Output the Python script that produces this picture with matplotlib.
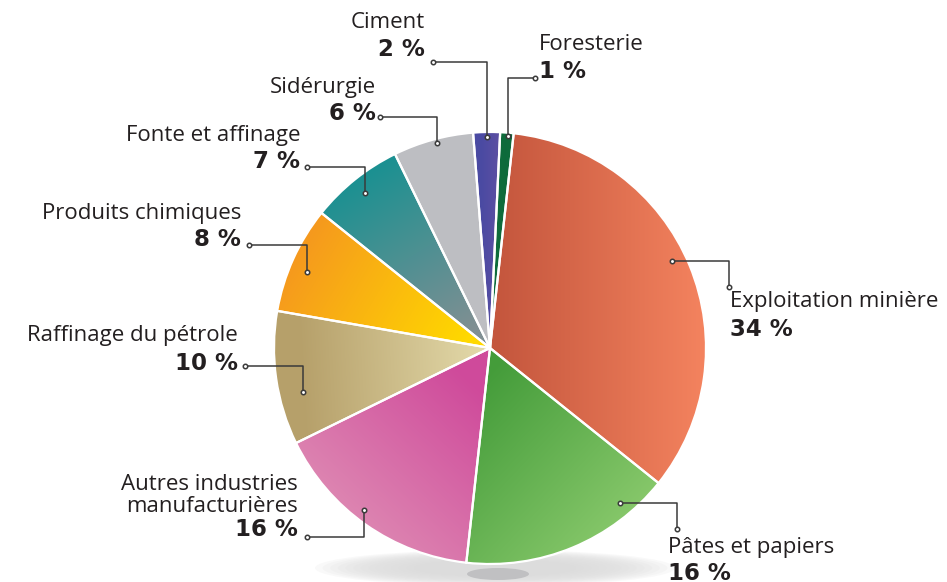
import numpy as np
import matplotlib
matplotlib.use("Agg")
import matplotlib.pyplot as plt
from matplotlib.patches import Ellipse
from matplotlib.colors import to_rgb

# data
labels = ["Foresterie", "Exploitation minière", "Pâtes et papiers",
          "Autres industries\nmanufacturières", "Raffinage du pétrole",
          "Produits chimiques", "Fonte et affinage", "Sidérurgie", "Ciment"]
values = [1, 34, 16, 16, 10, 8, 7, 6, 2]
pct_labels = ["1 %", "34 %", "16 %", "16 %", "10 %", "8 %", "7 %", "6 %", "2 %"]

# gradient colours (start, end) and direction points in image px
grads = [
    ("#0e6b3b", "#0e6b3b", (500, 140), (514, 140)),
    ("#c4563d", "#f3825e", (495, 300), (700, 300)),
    ("#449c3a", "#8ccb6e", (480, 380), (640, 530)),
    ("#cf4a9b", "#e092b6", (470, 380), (320, 540)),
    ("#e2d8a8", "#b6a06a", (480, 350), (300, 360)),
    ("#ffd800", "#f5961f", (470, 330), (300, 230)),
    ("#808f93", "#1b9191", (470, 330), (370, 170)),
    ("#bdbec2", "#bdbec2", (450, 200), (460, 200)),
    ("#4a4aa2", "#5b4fa3", (480, 140), (498, 140)),
]

W, H = 947, 582
cx, cy, R = 490, 348, 216

fig = plt.figure(figsize=(W / 100, H / 100), dpi=100)
ax = fig.add_axes([0, 0, 1, 1])

wedges, _ = ax.pie(values, startangle=87.3, counterclock=False,
                   center=(cx, H - cy), radius=R,
                   wedgeprops=dict(edgecolor="white", linewidth=1.6))
ax.set_xlim(0, W)
ax.set_ylim(0, H)
ax.set_aspect("equal")
ax.axis("off")

# shadow below pie
for k in range(14):
    f = k / 13
    ax.add_patch(Ellipse((cx + 5, H - 568), 360 * (1 - 0.55 * f), 36 * (1 - 0.55 * f),
                         color="#dcdcdc", alpha=0.16, lw=0, zorder=0))
ax.add_patch(Ellipse((cx + 8, H - 574), 62, 12, color="#c0c0c2", lw=0, zorder=0.5))

# gradient fill per wedge (row 0 = top of picture)
yy, xx = np.mgrid[0:H, 0:W]
for w, (c0, c1, p0, p1) in zip(wedges, grads):
    p0 = np.array(p0, float)
    p1 = np.array(p1, float)
    d = p1 - p0
    t = ((xx - p0[0]) * d[0] + (yy - p0[1]) * d[1]) / (d @ d)
    t = np.clip(t, 0, 1)[..., None]
    img = (1 - t) * np.array(to_rgb(c0)) + t * np.array(to_rgb(c1))
    im = ax.imshow(img, extent=(0, W, 0, H), origin="upper", zorder=1,
                   interpolation="bilinear")
    im.set_clip_path(w)
    w.set_facecolor("none")
    w.set_zorder(2)
ax.set_xlim(0, W)
ax.set_ylim(0, H)

# callouts: (text x, first name line y, pct y, align, line points)
callouts = [
    (539, 45, 72, "left", [(535, 78), (508, 78), (508, 136)]),
    (730, 302, 329, "left", [(672, 261), (729, 261), (729, 287)]),
    (668, 548, 574, "left", [(620, 503), (677, 503), (677, 529)]),
    (298, 485, 529, "right", [(307, 537), (364, 537), (364, 510)]),
    (238, 336, 363, "right", [(245, 366), (303, 366), (303, 392)]),
    (241, 213, 240, "right", [(249, 245), (307, 245), (307, 272)]),
    (300, 135, 162, "right", [(307, 167), (365, 167), (365, 193)]),
    (376, 87, 113, "right", [(380, 117), (437, 117), (437, 143)]),
    (425, 23, 50, "right", [(433, 62), (487, 62), (487, 137)]),
]

tc = "#231f20"
for name, pct, (tx, ny, py, ha, pts) in zip(labels, pct_labels, callouts):
    for i, line in enumerate(name.split("\n")):
        ax.text(tx, H - ny - 22 * i, line, ha=ha, va="center", fontsize=16,
                family="Open Sans", color=tc, zorder=5)
    ax.text(tx, H - py, pct, ha=ha, va="center", fontsize=16.5,
            family="DejaVu Sans", fontweight="bold", color=tc, zorder=5)
    xs = [p[0] for p in pts]
    ys = [H - p[1] for p in pts]
    ax.plot(xs, ys, color="#3a3a3a", lw=1.1, zorder=6)
    ax.plot([xs[0], xs[-1]], [ys[0], ys[-1]], "o", ms=3.2, mfc="white",
            mec="#3a3a3a", mew=1.1, zorder=7)

fig.savefig("out.png", dpi=100)
